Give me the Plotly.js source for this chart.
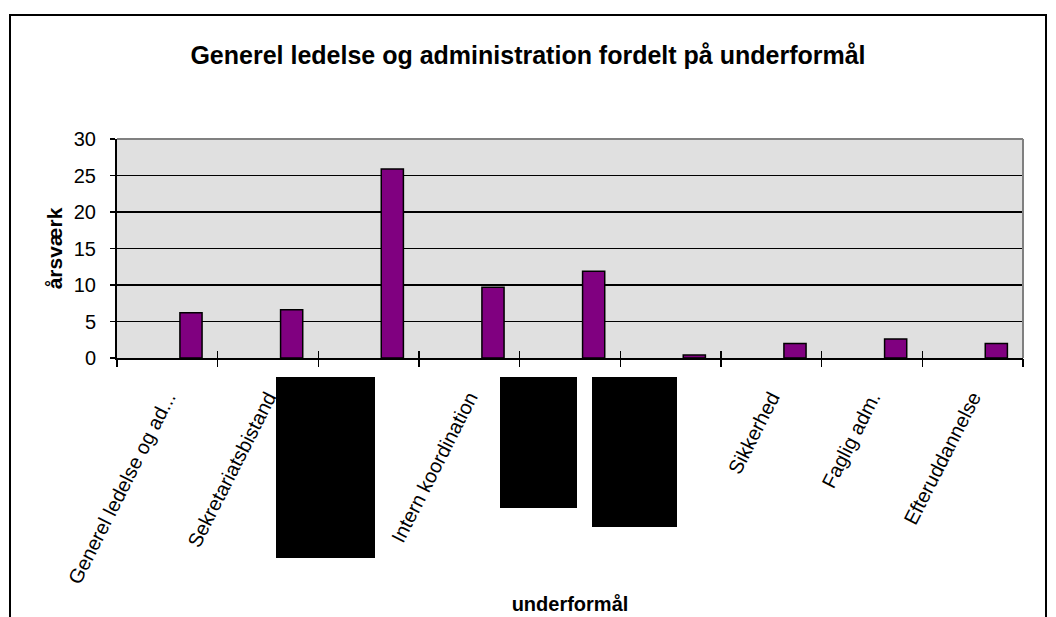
<!DOCTYPE html>
<html>
<head>
<meta charset="utf-8">
<script src="https://cdn.plot.ly/plotly-3.0.1.min.js"></script>
<style>
  body { margin: 0; background: #fff; }
  #myGraph { position: absolute; left: 0; top: 0; width: 1056px; height: 617px; }
  /* ramme om diagrammet */
  #ramme { position: absolute; left: 9px; top: 14px; width: 1038px; height: 700px;
           border: 2px solid #000; box-sizing: border-box; pointer-events: none; }
  /* sorte overstregninger over tre kategorinavne */
  .sort { position: absolute; background: #000; pointer-events: none; }
</style>
</head>
<body>
<div id="myGraph"></div>
<div id="ramme"></div>
<div class="sort" style="left:276px; top:377px; width:99px; height:181px;"></div>
<div class="sort" style="left:500px; top:377px; width:77px; height:131px;"></div>
<div class="sort" style="left:592px; top:377px; width:85px; height:150px;"></div>
<script>
// kategorier (tomme navne er overstreget i originalen)
let kategorier = ['Generel ledelse og ad...', 'Sekretariatsbistand', '', 'Intern koordination',
                  '', '', 'Sikkerhed', 'Faglig adm.', 'Efteruddannelse'];
// årsværk pr. underformål
let aarsvaerk = [6.2, 6.6, 25.9, 9.7, 11.9, 0.4, 2.0, 2.6, 2.0];
let yTicks = [0, 5, 10, 15, 20, 25, 30];

let myGraph = document.getElementById('myGraph');

let idx = kategorier.map(function (k, i) { return i; });
let graenser = [];
for (let i = 0; i <= kategorier.length; i++) graenser.push(i - 0.5);

let trace1 = {
    type: 'bar',
    x: idx,
    y: aarsvaerk,
    width: 0.22,
    offset: 0.125,   // søjlen står til højre for midten, som i Excel
    marker: { color: '#800080', line: { color: '#000', width: 1.5 } },
    hoverinfo: 'y',
    showlegend: false
};

let xRange = [-0.5, kategorier.length - 0.5];
let font = { family: 'Liberation Sans, Arial, sans-serif', color: '#000' };

let layout = {
    width: 1056,
    height: 617,
    margin: { l: 117, r: 33, t: 139, b: 259 },
    paper_bgcolor: 'rgba(0,0,0,0)',
    plot_bgcolor: '#e0e0e0',
    font: font,
    title: {
        text: '<b>Generel ledelse og administration fordelt på underformål</b>',
        font: { family: font.family, size: 25, color: '#000' },
        xref: 'container', x: 0.5, xanchor: 'center',
        yref: 'container', y: 1 - 55 / 617, yanchor: 'middle'
    },
    xaxis: {
        type: 'linear', range: xRange, fixedrange: true,
        tickmode: 'array', tickvals: idx, ticktext: kategorier,
        ticks: 'outside', ticklen: 18, tickcolor: 'rgba(0,0,0,0)',
        tickangle: -63, tickfont: { family: font.family, size: 20, color: '#000' },
        showgrid: false, zeroline: false,
        showline: true, linecolor: '#000', linewidth: 2
    },
    xaxis2: {
        overlaying: 'x', anchor: 'y', side: 'bottom',
        type: 'linear', range: xRange, fixedrange: true,
        tickmode: 'array', tickvals: graenser,
        ticks: 'outside', ticklen: 8, tickwidth: 1.5, tickcolor: '#000',
        showticklabels: false, showgrid: false, zeroline: false, showline: false,
        title: { text: '<b>underformål</b>', standoff: 230,
                 font: { family: font.family, size: 20, color: '#000' } }
    },
    xaxis3: {
        overlaying: 'x', anchor: 'y', side: 'bottom',
        type: 'linear', range: xRange, fixedrange: true,
        tickmode: 'array', tickvals: graenser,
        ticks: 'inside', ticklen: 7, tickwidth: 1.5, tickcolor: '#000',
        showticklabels: false, showgrid: false, zeroline: false, showline: false
    },
    yaxis: {
        range: [0, 30], fixedrange: true,
        tickmode: 'array', tickvals: yTicks,
        ticks: 'outside', ticklen: 5, tickwidth: 1.5, tickcolor: '#000',
        ticklabelstandoff: 10,
        tickfont: { family: font.family, size: 20, color: '#000' },
        showgrid: true, gridcolor: '#000', gridwidth: 1.5,
        zeroline: false, showline: true, linecolor: '#000', linewidth: 2,
        title: { text: '<b>årsværk</b>', standoff: 5,
                 font: { family: font.family, size: 21, color: '#000' } }
    },
    shapes: [
        // grå kant øverst og til højre i plotområdet
        { type: 'line', xref: 'paper', yref: 'paper', x0: 0, x1: 1, y0: 1, y1: 1,
          line: { color: '#808080', width: 2 }, layer: 'above' },
        { type: 'line', xref: 'paper', yref: 'paper', x0: 1, x1: 1, y0: 0, y1: 1,
          line: { color: '#808080', width: 2 }, layer: 'above' }
    ]
};

let data = [];
data.push(trace1);
data.push({ type: 'scatter', x: [], y: [], xaxis: 'x2', showlegend: false, hoverinfo: 'skip' });
data.push({ type: 'scatter', x: [], y: [], xaxis: 'x3', showlegend: false, hoverinfo: 'skip' });

Plotly.newPlot(myGraph, data, layout, { displayModeBar: false, staticPlot: true });
</script>
</body>
</html>
